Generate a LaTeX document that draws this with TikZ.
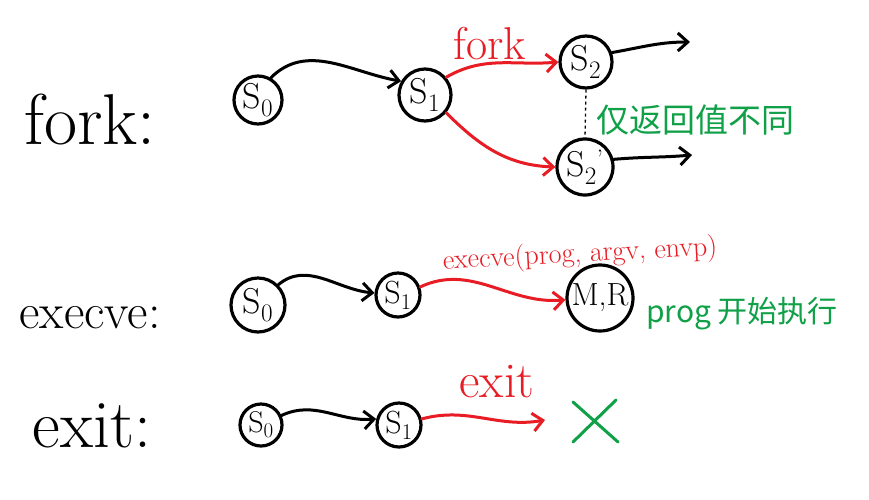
\documentclass[tikz,border=0pt]{standalone}
\usepackage{fontspec}
\newfontfamily\cjk{Noto Sans CJK SC}
\usetikzlibrary{arrows.meta}
\definecolor{handred}{RGB}{232,28,36}
\definecolor{handgreen}{RGB}{16,160,72}
\newcommand{\sname}[1]{S\textsubscript{#1}}
\newcommand{\snamep}[1]{S\textsubscript{#1}\textsuperscript{\textquoteright}}
\tikzset{
  st/.style={circle,draw=black,line width=3.2pt,inner sep=0pt,font=\fontsize{36}{38}\selectfont},
  conn/.style={line width=3pt,line cap=round,-{Straight Barb[length=10pt,width=18pt,line width=3pt]}},
  bk/.style={conn,draw=black},
  rd/.style={conn,draw=handred},
  lbl/.style={font=\fontsize{72}{74}\selectfont,inner sep=0pt},
  redlbl/.style={text=handred,inner sep=0pt},
  greenlbl/.style={text=handgreen,inner sep=0pt}
}
\begin{document}
\begin{tikzpicture}[x=1pt,y=-1pt]
\useasboundingbox (0,0) rectangle (869,499);
\fill[white] (0,0) rectangle (869,499);
% left labels
\node[lbl] (lf) at (90,120) {fork:};
\node[lbl,font=\fontsize{50}{52}\selectfont] (le) at (90,318) {execve:};
\node[lbl,font=\fontsize{68}{70}\selectfont] (lx) at (92,426) {exit:};
% fork row
\node[st,minimum size=48pt] (f0) at (258,100) {\sname{0}};
\node[st,minimum size=52pt] (f1) at (425,95) {\sname{1}};
\node[st,minimum size=52pt] (f2) at (586,62) {\sname{2}};
\node[st,minimum size=56pt] (f2p) at (585,167) {\snamep{2}};
\coordinate (f2end) at (690,42);
\coordinate (f2pend) at (692,155);
\draw[bk] (f0.60) to[out=45,in=170] (f1.150);
\draw[rd] (f1.40) to[out=30,in=185] (f2.west);
\draw[rd] (f1.-40) to[out=-45,in=178] (f2p.west);
\draw[bk] (f2.20) to[out=10,in=180] (f2end);
\draw[bk] (f2p.15) to[out=5,in=185] (f2pend);
\draw[line width=1.3pt,dashed] (f2.south) -- (f2p.north);
\node[redlbl,font=\fontsize{46}{48}\selectfont] (tfork) at (490,44) {fork};
\node[greenlbl,font=\cjk\fontsize{33}{35}\selectfont] (tret) at (695,120) {仅返回值不同};
% execve row
\node[st,minimum size=54pt] (e0) at (258,305) {\sname{0}};
\node[st,minimum size=44pt,font=\fontsize{32}{34}\selectfont] (e1) at (398,295) {\sname{1}};
\node[st,minimum size=66pt,font=\fontsize{32}{34}\selectfont] (e2) at (600,298) {M,R};
\draw[bk] (e0.45) to[out=40,in=175] (e1.175);
\draw[rd] (e1.20) to[out=25,in=185] (e2.183);
\node[redlbl,font=\fontsize{28}{30}\selectfont,rotate=3] (texec) at (580,255) {execve(prog, argv, envp)};
\node[greenlbl,font=\cjk\fontsize{30}{32}\selectfont] (tprog) at (742,314) {prog 开始执行};
% exit row
\node[st,minimum size=42pt,font=\fontsize{30}{32}\selectfont] (x0) at (261,425) {\sname{0}};
\node[st,minimum size=44pt,font=\fontsize{32}{34}\selectfont] (x1) at (399,425) {\sname{1}};
\coordinate (xend) at (545,420);
\draw[bk] (x0.25) to[out=25,in=185] (x1.165);
\draw[rd] (x1.15) to[out=15,in=190] (xend);
\node[redlbl,font=\fontsize{50}{52}\selectfont] (texit) at (497,382) {exit};
\coordinate (xa) at (573,402);
\coordinate (xb) at (618,442);
\coordinate (xc) at (573,442);
\coordinate (xd) at (616,400);
\draw[handgreen,line width=3pt,line cap=round] (xa) -- (xb) (xc) -- (xd);
\end{tikzpicture}
\end{document}
